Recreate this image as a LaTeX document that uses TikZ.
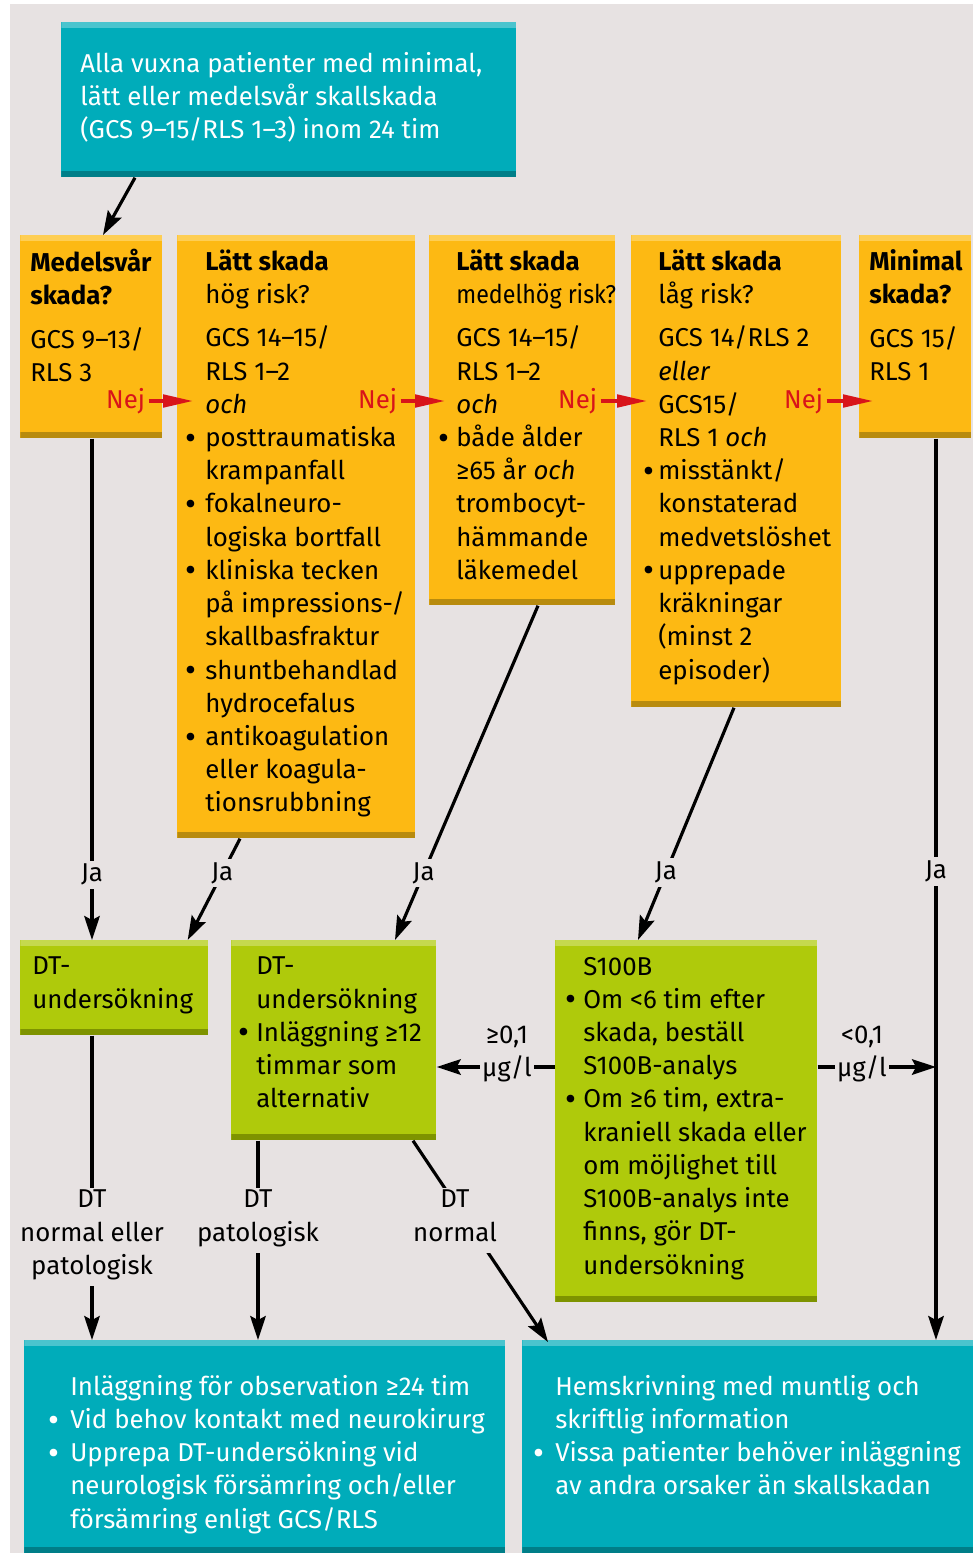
\documentclass[tikz,border=0pt]{standalone}
\usepackage{fontspec}
\setmainfont{Fira Sans}
\usetikzlibrary{arrows.meta}
\definecolor{bakgrund}{RGB}{231,226,226}
\definecolor{turkos}{RGB}{0,172,186}
\definecolor{turkos-l}{RGB}{74,196,206}
\definecolor{turkos-d}{RGB}{0,126,136}
\definecolor{gul}{RGB}{253,185,19}
\definecolor{gul-l}{RGB}{254,206,84}
\definecolor{gul-d}{RGB}{184,139,14}
\definecolor{gron}{RGB}{175,202,11}
\definecolor{gron-l}{RGB}{197,217,78}
\definecolor{gron-d}{RGB}{126,147,0}
\definecolor{nejrod}{RGB}{216,20,26}
\newcommand{\pkt}[1][5pt]{\leavevmode\llap{\raisebox{-0.1em}{\scalebox{1.3}{\textbullet}}\hspace{#1}}}
\newcommand{\brodtext}{\fontsize{14.7}{18.9}\selectfont}
\tikzset{pil/.style={line width=1.8pt,-{Stealth[length=0.48cm,width=0.31cm,inset=0.08cm]}},
        nej/.style={nejrod,line width=2pt,-{Triangle[length=0.6cm,width=0.25cm]}},
        ruta/.style={rectangle,inner sep=0pt,anchor=north west,fill=#1,
            path picture={
                \fill[#1-l] (path picture bounding box.north west) rectangle ([yshift=-0.12cm]path picture bounding box.north east);
                \fill[#1-d] (path picture bounding box.south west) rectangle ([yshift=0.12cm]path picture bounding box.south east);
            }},
        storlek/.style 2 args={minimum width=#1*0.02cm,minimum height=#2*0.02cm},
        txt/.style={anchor=north west,inner sep=0pt,align=left,font=\brodtext,execute at begin node=\strut},
        etikett/.style={fill=bakgrund,inner sep=2pt,font=\brodtext},
        resultat/.style={fill=bakgrund,inner sep=1pt,anchor=north,align=center,font=\brodtext,execute at begin node=\strut},
        nejtext/.style={text=nejrod,inner sep=1pt,font=\brodtext}
        }

\begin{document}
\begin{tikzpicture}[x=0.02cm,y=-0.02cm]
    % 背景
    \useasboundingbox (0,0) rectangle (973,1553);
    \fill[bakgrund] (10,4) rectangle (973,1553);

    % 各个方框
    \node[ruta=turkos,storlek={455}{155}] (alla) at (61,22) {};
    \node[ruta=gul,storlek={142}{203}] (medel) at (20,235) {};
    \node[ruta=gul,storlek={238}{603}] (hoeg) at (177,235) {};
    \node[ruta=gul,storlek={186}{370}] (medelhoeg) at (429,235) {};
    \node[ruta=gul,storlek={210}{472}] (laag) at (631,235) {};
    \node[ruta=gul,storlek={112}{203}] (minimal) at (859,235) {};
    \node[ruta=gron,storlek={188}{95}] (dt) at (20,940) {};
    \node[ruta=gron,storlek={205}{200}] (dtalt) at (231,940) {};
    \node[ruta=gron,storlek={262}{362}] (s100b) at (555,940) {};
    \node[ruta=turkos,storlek={481}{213}] (inlaegg) at (24,1340) {};
    \node[ruta=turkos,storlek={451}{213}] (hem) at (522,1340) {};

    % 方框里的文字
    \node[txt,text=white] (alla-t) at (80,51.7) {Alla vuxna patienter med minimal,\\ lätt eller medelsvår skallskada\\ (GCS 9–15/RLS 1–3) inom 24 tim};
    \node[txt] (medel-t) at (30,249) {\textbf{Medelsvår}\\ \textbf{skada?}\\[6pt] GCS 9–13/\\ RLS 3};
    \node[txt] (hoeg-t) at (205,249) {\textbf{Lätt skada}\\ hög risk?\\[6pt] GCS 14–15/\\ RLS 1–2\\ \textit{och}\\ \pkt posttraumatiska\\ krampanfall\\ \pkt fokalneuro-\\ logiska bortfall\\ \pkt kliniska tecken\\ på impressions-/\\ skallbasfraktur\\ \pkt shuntbehandlad\\ hydrocefalus\\ \pkt antikoagulation\\ eller koagula-\\ tionsrubbning};
    \node[txt] (medelhoeg-t) at (456,249) {\textbf{Lätt skada}\\ \scalebox{0.9}[1]{medelhög risk?}\\[6pt] GCS 14–15/\\ RLS 1–2\\ \textit{och}\\ \pkt[4pt]både ålder\\ ≥65 år \textit{och}\\ trombocyt-\\ hämmande\\ läkemedel};
    \node[txt] (laag-t) at (658,249) {\textbf{Lätt skada}\\ låg risk?\\[6pt] GCS 14/RLS 2\\ \textit{eller}\\ GCS15/\\ RLS 1 \textit{och}\\ \pkt[2pt]misstänkt/\\ konstaterad\\ medvetslöshet\\ \pkt[2pt]upprepade\\ kräkningar\\ (minst 2\\ episoder)};
    \node[txt] (minimal-t) at (869,249) {\textbf{Minimal}\\ \textbf{skada?}\\[6pt] GCS 15/\\ RLS 1};
    \node[txt] (dt-t) at (32,956.7) {DT-\\ undersökning};
    \node[txt] (dtalt-t) at (256,956.7) {DT-\\ undersökning\\ \pkt[4pt]Inläggning ≥12\\ timmar som\\ alternativ};
    \node[txt] (s100b-t) at (583,956.7) {S100B\\ \pkt[4pt]Om <6 tim efter\\ skada, beställ\\ S100B-analys\\ \pkt[4pt]Om ≥6 tim, extra-\\ kraniell skada eller\\ om möjlighet till\\ S100B-analys inte\\ finns, gör DT-\\ undersökning};
    \node[txt,text=white] (inlaegg-t) at (70,1374.7) {Inläggning för observation ≥24 tim\\ \pkt[6pt]Vid behov kontakt med neurokirurg\\ \pkt[6pt]Upprepa DT-undersökning vid\\ neurologisk försämring och/eller\\ försämring enligt GCS/RLS};
    \node[txt,text=white] (hem-t) at (555,1374.7) {Hemskrivning med muntlig och\\ skriftlig information\\ \pkt[6pt]Vissa patienter behöver inläggning\\ av andra orsaker än skallskadan};

    % Nej 箭头
    \draw[nej] ([shift={(-14,166)}]medel.north east) node[left,nejtext] (nej1) {Nej} -- ([shift={(16,166)}]hoeg.north west);
    \draw[nej] ([shift={(-15,166)}]hoeg.north east) node[left,nejtext] (nej2) {Nej} -- ([shift={(16,166)}]medelhoeg.north west);
    \draw[nej] ([shift={(-15,166)}]medelhoeg.north east) node[left,nejtext] (nej3) {Nej} -- ([shift={(16,166)}]laag.north west);
    \draw[nej] ([shift={(-15,166)}]laag.north east) node[left,nejtext] (nej4) {Nej} -- ([shift={(14,166)}]minimal.north west);

    % Ja 箭头
    \draw[pil] ([shift={(74,0)}]alla.south west) -- ([shift={(83,0)}]medel.north west);
    \draw[pil] ([shift={(72,0)}]medel.south west) -- node[etikett,pos=0.87] (ja1) {Ja} ([shift={(72,0)}]dt.north west);
    \draw[pil] ([shift={(63,0)}]hoeg.south west) -- node[etikett,pos=0.34] (ja2) {Ja} ([shift={(-21,0)}]dt.north east);
    \draw[pil] ([shift={(109,0)}]medelhoeg.south west) -- node[etikett,pos=0.8] (ja3) {Ja} ([shift={(164,0)}]dtalt.north west);
    \draw[pil] ([shift={(103,0)}]laag.south west) -- node[etikett,pos=0.71] (ja4) {Ja} ([shift={(83,0)}]s100b.north west);
    \coordinate (min-ned) at ([shift={(77,0)}]minimal.south west);
    \draw[pil] (min-ned) -- node[etikett,pos=0.48] (ja5) {Ja} (min-ned |- hem.north);

    % S100B 的两个出口
    \coordinate (s-v) at ([shift={(0,127)}]s100b.north west);
    \coordinate (s-h) at ([shift={(0,127)}]s100b.north east);
    \draw[pil] (s-v) -- (s-v -| dtalt.east);
    \node[resultat] (hoeg-s) at (507,1024) {≥0,1\\ µg/l};
    \draw[pil] (s-h) -- (s-h -| min-ned);
    \node[resultat] (laag-s) at (862,1024) {<0,1\\ µg/l};

    % DT 结果
    \draw[pil] ([shift={(72,0)}]dt.south west) -- ([shift={(68,0)}]inlaegg.north west);
    \node[resultat] (dt-r) at (92,1188) {DT\\ normal eller\\ patologisk};
    \draw[pil] ([shift={(27,0)}]dtalt.south west) -- ([shift={(234,0)}]inlaegg.north west);
    \node[resultat] (dtalt-p) at (258,1188) {DT\\ patologisk};
    \draw[pil] ([shift={(182,0)}]dtalt.south west) -- ([shift={(26,2)}]hem.north west);
    \node[resultat] (dtalt-n) at (455,1188) {DT\\ normal};
\end{tikzpicture}
\end{document}
